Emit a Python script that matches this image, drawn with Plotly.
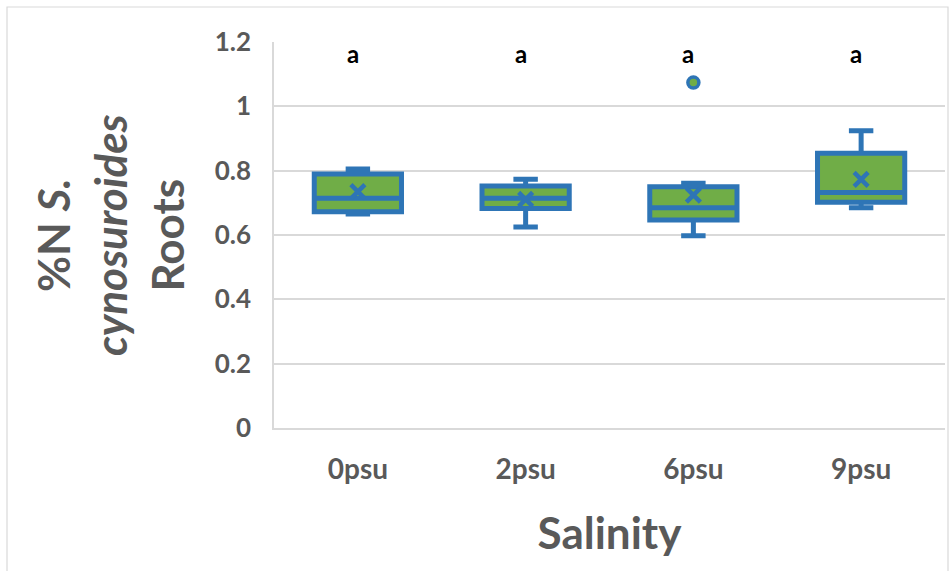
import plotly.graph_objects as go

# Salinity treatments
categories = ["0psu", "2psu", "6psu", "9psu"]

# Box summary statistics (%N in roots)
lower_whisker = [0.665, 0.625, 0.598, 0.685]
q1_values = [0.672, 0.682, 0.647, 0.702]
median_values = [0.714, 0.714, 0.685, 0.732]
q3_values = [0.790, 0.752, 0.750, 0.854]
upper_whisker = [0.805, 0.773, 0.761, 0.924]
mean_values = [0.735, 0.711, 0.724, 0.773]

# Outlying observations
outlier_cats = ["6psu"]
outlier_values = [1.074]

# Significance letters
letters = ["a", "a", "a", "a"]
letter_y = 1.165

BLUE = "#2E75B6"
GREEN = "#70AD47"
GREY = "#595959"
GRID = "#D9D9D9"
FONT = "Lato"

fig = go.Figure()

fig.add_trace(go.Box(
    x=categories,
    q1=q1_values,
    median=median_values,
    q3=q3_values,
    lowerfence=lower_whisker,
    upperfence=upper_whisker,
    fillcolor=GREEN,
    line=dict(color=BLUE, width=5),
    width=0.52,
    whiskerwidth=0.28,
    boxpoints=False,
    showlegend=False,
    hoverinfo="skip",
))

fig.add_trace(go.Scatter(
    x=categories,
    y=mean_values,
    mode="markers",
    marker=dict(symbol="x-thin", size=14, line=dict(color=BLUE, width=4.5)),
    showlegend=False,
    hoverinfo="skip",
))

fig.add_trace(go.Scatter(
    x=outlier_cats,
    y=outlier_values,
    mode="markers",
    marker=dict(symbol="circle", size=11, color=GREEN, line=dict(color=BLUE, width=3.5)),
    showlegend=False,
    hoverinfo="skip",
))

for cat, letter in zip(categories, letters):
    fig.add_annotation(
        x=cat, y=letter_y, text=f"<b>{letter}</b>", showarrow=False,
        xshift=-5,
        font=dict(family=FONT, size=24, color="#000000"),
    )

# Y-axis title, three wrapped lines
fig.add_annotation(
    xref="paper", yref="paper", x=(110 - 274) / 671, y=0.5,
    xanchor="center", yanchor="middle",
    text="<b>%N <i>S.</i></b><br><b><i>cynosuroides</i></b><br><b>Roots</b>",
    textangle=-90, showarrow=False, align="center",
    font=dict(family=FONT, size=44, color=GREY),
)

# Outer chart frame
fig.add_shape(
    type="rect", xref="paper", yref="paper",
    x0=(7 - 274) / 671, x1=(948 - 274) / 671,
    y0=(428 - 590) / 386, y1=(428 - 7) / 386,
    line=dict(color=GRID, width=1.2), fillcolor="rgba(0,0,0,0)", layer="below",
)

fig.update_layout(
    width=951, height=571,
    margin=dict(l=274, r=6, t=42, b=143),
    paper_bgcolor="white", plot_bgcolor="white",
    font=dict(family=FONT, color=GREY),
    xaxis=dict(
        type="category",
        categoryorder="array", categoryarray=categories,
        range=[-0.5, 3.5],
        showgrid=False, showline=True, linecolor=GRID, linewidth=1.5,
        ticks="", tickfont=dict(family=FONT, size=28, color=GREY),
        ticklabelstandoff=16,
        title=dict(text="<b>Salinity</b>", font=dict(family=FONT, size=44, color=GREY), standoff=34),
    ),
    yaxis=dict(
        range=[0, 1.2], tickvals=[0, 0.2, 0.4, 0.6, 0.8, 1, 1.2],
        ticktext=["<b>0</b>", "<b>0.2</b>", "<b>0.4</b>", "<b>0.6</b>", "<b>0.8</b>", "<b>1</b>", "<b>1.2</b>"],
        showgrid=True, gridcolor=GRID, gridwidth=1.5,
        showline=True, linecolor=GRID, linewidth=1.5,
        zeroline=False, ticks="",
        tickfont=dict(family=FONT, size=26, color=GREY),
        ticklabelstandoff=16,
    ),
)

fig.update_xaxes(tickvals=categories, ticktext=[f"<b>{c}</b>" for c in categories])

fig.write_html("out.html")
